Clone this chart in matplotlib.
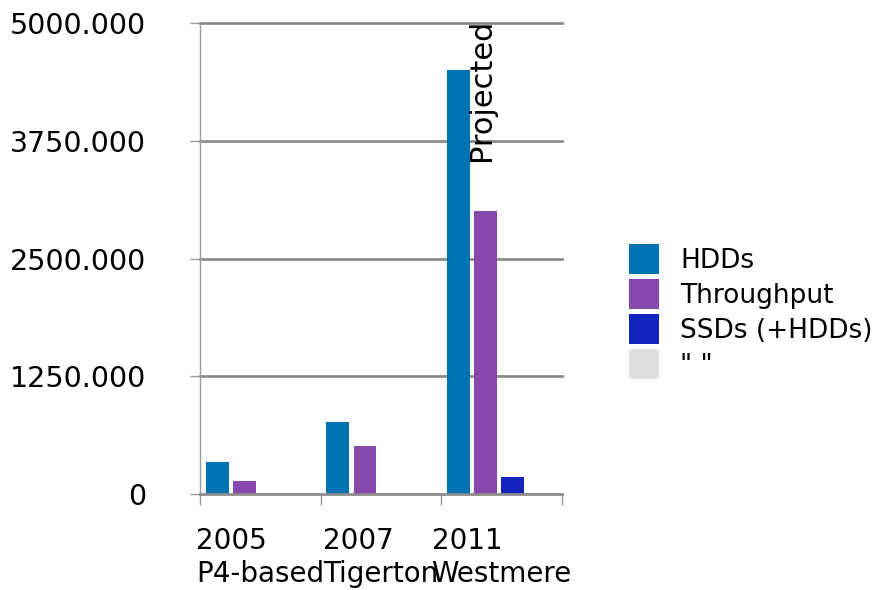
import numpy as np
import matplotlib
matplotlib.use("Agg")
import matplotlib.pyplot as plt
from matplotlib.patches import Patch

# Data
platforms = ["2005\nP4-based", "2007\nTigerton", "2011\nWestmere"]
series_names = ["HDDs", "Throughput", "SSDs (+HDDs)", '" "']
hdds = [340, 765, 4500]
throughput = [140, 510, 3000]
ssds = [0, 0, 180]
blank = [0, 0, 0]
y_ticks = [0, 1250, 2500, 3750, 5000]
y_tick_labels = ["0", "1250.000", "2500.000", "3750.000", "5000.000"]
note = "Projected"

colors = ["#0073B2", "#8748AE", "#1423BE", "#DFDFDF"]
grid_color = "#8C8C8C"

plt.rcParams["font.family"] = ["DejaVu Sans"]

fig = plt.figure(figsize=(8.82, 5.90), dpi=100)
ax = fig.add_axes([200 / 882, 96 / 590, 362 / 882, 471 / 590])

x = np.arange(len(platforms))
stride = 0.225
width = 0.19
all_series = [hdds, throughput, ssds, blank]
for k, (vals, col) in enumerate(zip(all_series, colors)):
    offset = (k - 1.5) * stride - 0.02
    ax.bar(x + offset, vals, width=width, color=col, linewidth=0, zorder=3)

ax.set_xlim(-0.5, len(platforms) - 0.5)
ax.set_ylim(0, 5000)

# Gridlines
for yv in y_ticks[1:]:
    ax.axhline(yv, color=grid_color, lw=2, zorder=1, clip_on=False)

# Spines
for s in ["top", "right"]:
    ax.spines[s].set_visible(False)
ax.spines["left"].set_color("#9A9A9A")
ax.spines["left"].set_linewidth(1)
ax.spines["bottom"].set_color(grid_color)
ax.spines["bottom"].set_linewidth(2)
ax.spines["bottom"].set_zorder(4)

# Y axis
ax.set_yticks(y_ticks)
ax.set_yticklabels(y_tick_labels)
ax.tick_params(axis="y", length=7, width=1, color="#9A9A9A", pad=32,
               labelsize=20.5, direction="out")

# X axis: boundary ticks (major) and category labels (minor)
ax.set_xticks(np.arange(-0.5, len(platforms), 1.0))
ax.set_xticklabels([])
ax.tick_params(axis="x", which="major", length=8, width=1, color="#9A9A9A",
               direction="out")
ax.set_xticks(x, minor=True)
ax.set_xticklabels(platforms, minor=True, multialignment="left")
ax.tick_params(axis="x", which="minor", length=0, pad=24, labelsize=20)

# Annotation over the 2011 group
ax.text(1.83, 5050, note, rotation=90, ha="center", va="top", fontsize=22,
        zorder=5)

# Legend: square swatches about 30 px, rows 35 px apart
handles = [Patch(facecolor=c, edgecolor="none") for c in colors]
fs = 19
px = fs * 100 / 72
hh = (30 / px - 0.245) / 0.65
fig.legend(handles, series_names, loc="upper left",
           bbox_to_anchor=(629 / 882, 1 - 244 / 590),
           frameon=False, fontsize=fs, borderpad=0, borderaxespad=0,
           handlelength=30 / px, handleheight=hh,
           handletextpad=21 / px, labelspacing=5 / px)

fig.savefig("out.png", dpi=100, facecolor="white")
